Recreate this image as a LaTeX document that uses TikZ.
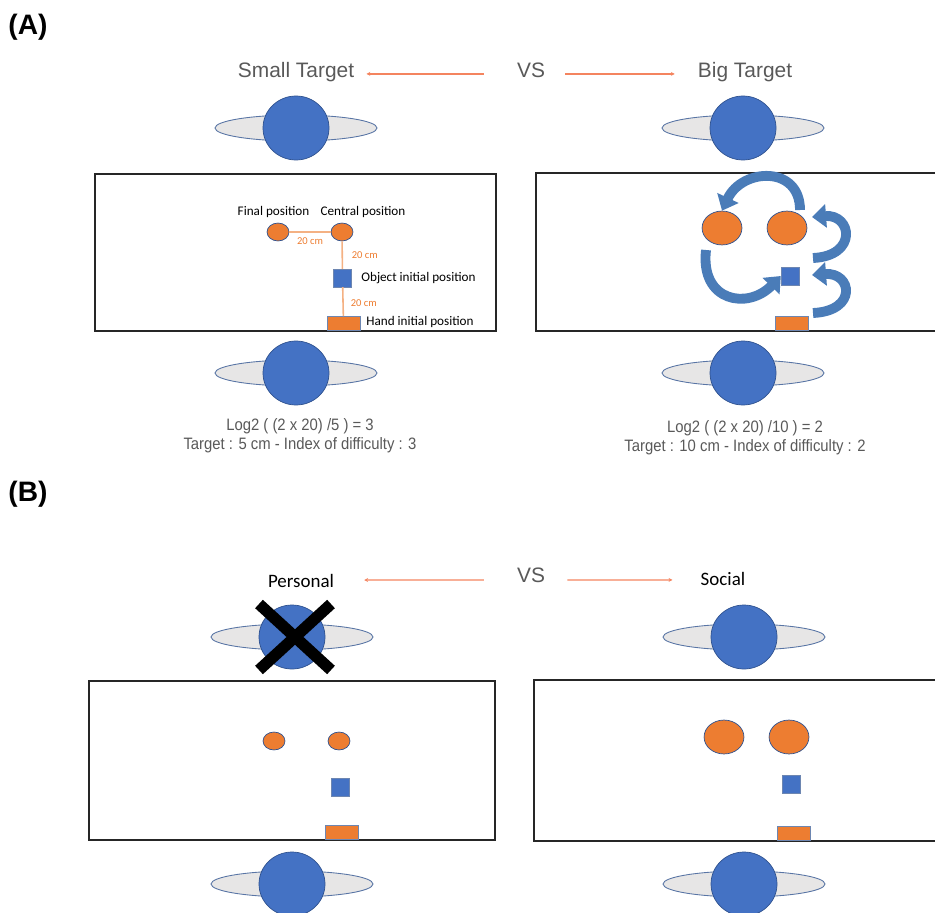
\documentclass[tikz,border=0pt]{standalone}
\usepackage{fontspec}
\setmainfont{Liberation Sans}
\newfontfamily\calibri{Carlito}
\newfontfamily\narrow[FakeStretch=0.9]{Liberation Sans}
\usetikzlibrary{arrows.meta,shapes.geometric}
\definecolor{headblue}{HTML}{4472C4}
\definecolor{edgeblue}{HTML}{2F528F}
\definecolor{facegray}{HTML}{E7E6E6}
\definecolor{tgtorange}{HTML}{ED7D31}
\definecolor{peach}{HTML}{F4B183}
\definecolor{vsred}{HTML}{F4845F}
\definecolor{textgray}{HTML}{595959}
\definecolor{curlblue}{HTML}{4A7CB8}
\def\viewer(#1,#2){\draw[face] (#1,#2) ellipse (81 and 13); \draw[head] (#1,#2) ellipse (33 and 32);}

\begin{document}
\begin{tikzpicture}[x=0.02cm,y=-0.02cm,
	face/.style={fill=facegray,draw=edgeblue!80,line width=0.5pt},
	head/.style={fill=headblue,draw=edgeblue,line width=0.4pt},
	table/.style={draw=black!85,line width=1.1pt},
	target/.style={ellipse,fill=tgtorange,draw=edgeblue,line width=0.4pt,inner sep=0pt},
	small target/.style={target,minimum width=12.5pt,minimum height=10.2pt},
	big target/.style={target,minimum width=22.7pt,minimum height=19.3pt},
	object/.style={rectangle,fill=headblue,draw=edgeblue!70,line width=0.3pt,inner sep=0pt,minimum size=10.2pt},
	hand/.style={rectangle,fill=tgtorange,draw=edgeblue!70,line width=0.3pt,inner sep=0pt,minimum width=18.7pt,minimum height=8pt},
	toptext/.style={text=textgray,font=\fontsize{11.9}{14}\selectfont,inner sep=0pt,text height=8.5pt,text depth=2.5pt},
	calib/.style={font=\calibri\fontsize{7.5}{9}\selectfont,inner sep=0pt},
	choice/.style={font=\calibri\fontsize{10.8}{13}\selectfont,inner sep=0pt,text height=7.5pt,text depth=2.5pt},
	dist/.style={draw=peach,line width=0.9pt},
	distlabel/.style={text=tgtorange,font=\calibri\fontsize{6}{7}\selectfont,inner sep=0pt},
	vsline/.style={draw=vsred,line width=0.7pt,-{Stealth[length=2.2pt,width=2.2pt]}},
	curl/.style={draw=curlblue,line width=5.6pt,-{Triangle[length=8pt,width=13pt]}},
	logtext/.style={text=textgray,font=\narrow\fontsize{9.4}{11}\selectfont,inner sep=0pt},
	panel/.style={font=\bfseries\fontsize{16}{19}\selectfont,inner sep=0pt},
	cross/.style={draw=black,line width=6.5pt}]
		%%%%% START %%%%%
		\useasboundingbox (0,0) rectangle (935,912);
		
		% (A) target size
		\node[panel] (labA) at (28,27) {(A)};
		\node[toptext] (small) at (296,72) {Small Target};
		\node[toptext] (vsA) at (531,72) {VS};
		\node[toptext] (big) at (745,72) {Big Target};
		\draw[vsline] ([xshift=-18.7pt,yshift=-1.1pt]vsA.west) -- ([xshift=6.8pt,yshift=-1.1pt]small.east);
		\draw[vsline] ([xshift=11.3pt,yshift=-1.1pt]vsA.east) -- ([xshift=-13pt,yshift=-1.1pt]big.west);
		
		\viewer(296,128)
		\viewer(743,128)
		
		\draw[table] (95,174) rectangle (496,331);
		\node[small target] (finA) at (278,232) {};
		\node[small target] (cenA) at (342,232) {};
		\node[object] (objA) at (342.5,278) {};
		\node[hand] (handA) at (343.5,323.5) {};
		\draw[dist] (finA) -- node[distlabel,below=3pt] (d1) {20 cm} (cenA);
		\draw[dist] (cenA) -- node[distlabel,anchor=west,xshift=5pt] (d2) {20 cm} (objA);
		\draw[dist] (objA) -- node[distlabel,anchor=west,xshift=4pt,yshift=-1pt] (d3) {20 cm} (handA);
		\node[calib] (finlab) at (273.5,212) {Final position};
		\node[calib] (cenlab) at (363,212) {Central position};
		\node[calib,anchor=west] (objlab) at (361,278) {Object initial position};
		\node[calib,anchor=west] (handlab) at (366,322) {Hand initial position};
		
		\draw[table] (935,173) -- (536,173) -- (536,331) -- (935,331);
		\node[big target] (finB) at (722,228) {};
		\node[big target] (cenB) at (787,228) {};
		\node[object] (objB) at (790,276) {};
		\node[hand] (handB) at (792,323.5) {};
		\coordinate (c1s) at (800,210);
		\coordinate (c2s) at (706,250);
		\coordinate (c3s) at (813,258);
		\coordinate (c3e) at (812,217);
		\coordinate (c4s) at (813,313);
		\coordinate (c4e) at (812,275);
		\draw[curl] (c1s) .. controls (800,165) and (742,168) .. (finB.north);
		\draw[curl] (c2s) .. controls (700,302) and (748,310) .. (objB.west);
		\draw[curl] (c3s) .. controls (858,256) and (852,214) .. (c3e);
		\draw[curl] (c4s) .. controls (858,311) and (852,272) .. (c4e);
		
		\viewer(296,373)
		\viewer(743,373)
		\node[logtext] (logA) at (300,426) {Log2 ( (2 x 20) /5 ) = 3};
		\node[logtext] (idA) at (300,445) {Target : 5 cm - Index of difficulty : 3};
		\node[logtext] (logB) at (745,428) {Log2 ( (2 x 20) /10 ) = 2};
		\node[logtext] (idB) at (745,447) {Target : 10 cm - Index of difficulty : 2};
		
		% (B) personal vs social
		\node[panel] (labB) at (28,494) {(B)};
		\node[choice] (pers) at (301,583) {Personal};
		\node[toptext] (vsB) at (531,577) {VS};
		\node[choice] (soc) at (723,581) {Social};
		\draw[vsline] ([xshift=-18.7pt,yshift=-1.7pt]vsB.west) -- ([xshift=17pt,yshift=1.7pt]pers.east);
		\draw[vsline] ([xshift=12.5pt,yshift=-1.7pt]vsB.east) -- ([xshift=-15.9pt,yshift=0.6pt]soc.west);
		
		\viewer(292,637)
		\viewer(744,637)
		\draw[cross] (259,604) -- (331,670);
		\draw[cross] (331,604) -- (259,670);
		
		\draw[table] (89,681) rectangle (495,840);
		\node[small target] (finC) at (274,741) {};
		\node[small target] (cenC) at (339,741) {};
		\node[object] (objC) at (340,787) {};
		\node[hand] (handC) at (341.5,832.5) {};
		
		\draw[table] (935,680) -- (534,680) -- (534,841) -- (935,841);
		\node[big target] (finD) at (724,737) {};
		\node[big target] (cenD) at (789,737) {};
		\node[object] (objD) at (791.5,784.5) {};
		\node[hand] (handD) at (794,833) {};
		
		\viewer(292,884)
		\viewer(744,884)
		%%%%% END %%%%%
	\end{tikzpicture}
\end{document}
